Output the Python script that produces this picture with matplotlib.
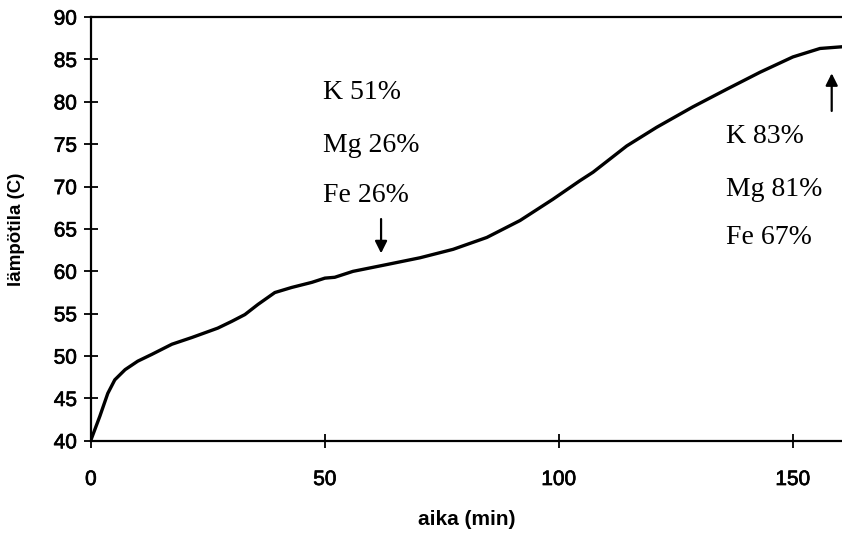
import matplotlib
matplotlib.use("Agg")
import matplotlib.pyplot as plt
import matplotlib.patheffects as pe

# curve: time (min) vs temperature (C)
aika = [0, 1.9, 3.6, 5.1, 7.3, 10, 13, 17.3, 21.6, 27.1, 30.1, 32.9, 35.7,
        39.3, 42.9, 47.2, 50, 52.1, 56, 63.2, 70.3, 77.4, 84.6, 91.7, 98.7,
        104.5, 107.3, 114.5, 120.9, 128.6, 135.9, 143, 150, 155.8, 160.5]
lampotila = [40.1, 42.9, 45.6, 47.2, 48.4, 49.4, 50.2, 51.4, 52.2, 53.3,
             54.1, 54.9, 56.1, 57.5, 58.1, 58.7, 59.2, 59.3, 60.0, 60.8,
             61.6, 62.6, 64.0, 66.0, 68.5, 70.7, 71.7, 74.8, 77.0, 79.4,
             81.5, 83.5, 85.3, 86.3, 86.5]

xticks = [0, 50, 100, 150]
yticks = list(range(40, 95, 5))

left_notes = ["K 51%", "Mg 26%", "Fe 26%"]
left_note_y = [81.1, 74.8, 68.9]
right_notes = ["K 83%", "Mg 81%", "Fe 67%"]
right_note_y = [75.9, 69.7, 64.0]

fig = plt.figure(figsize=(8.42, 5.35), dpi=100)
ax = fig.add_axes([0.108, 0.176, 0.892, 0.792])

ax.plot(aika, lampotila, color="black", lw=2.4, solid_capstyle="round")

ax.set_xlim(0, 160.5)
ax.set_ylim(40, 90)
ax.set_xticks(xticks)
ax.set_yticks(yticks)
ax.tick_params(direction="inout", length=10, width=1.3, labelsize=15)
ax.tick_params(axis="x", pad=16)
ax.tick_params(axis="y", pad=5)
# scanned labels look a bit heavier than plain regular weight
thick = [pe.withStroke(linewidth=0.5, foreground="black")]
for lab in ax.get_xticklabels() + ax.get_yticklabels():
    lab.set_family("Liberation Sans")
    lab.set_path_effects(thick)

for side in ("left", "bottom", "top"):
    ax.spines[side].set_linewidth(1.6)
ax.spines["right"].set_visible(False)

ax.set_xlabel("aika (min)", fontsize=15, fontweight="bold", family="Liberation Sans")
ax.xaxis.set_label_coords(0.5, -0.163)
ax.set_ylabel("lämpötila (C)", fontsize=13.5, fontweight="bold", family="Liberation Sans")
ax.yaxis.set_label_coords(-0.088, 0.5)

serif = "Liberation Serif"
for txt, y in zip(left_notes, left_note_y):
    ax.text(49.6, y, txt, fontsize=20, family=serif, va="center", ha="left")
for txt, y in zip(right_notes, right_note_y):
    ax.text(135.8, y, txt, fontsize=20, family=serif, va="center", ha="left")

arrow = dict(arrowstyle="-|>", color="black", lw=1.6, mutation_scale=18)
ax.annotate("", xy=(62, 61.8), xytext=(62, 66.5), arrowprops=arrow)
ax.annotate("", xy=(158.3, 83.7), xytext=(158.3, 78.6), arrowprops=arrow)

fig.savefig("out.png", dpi=100)
